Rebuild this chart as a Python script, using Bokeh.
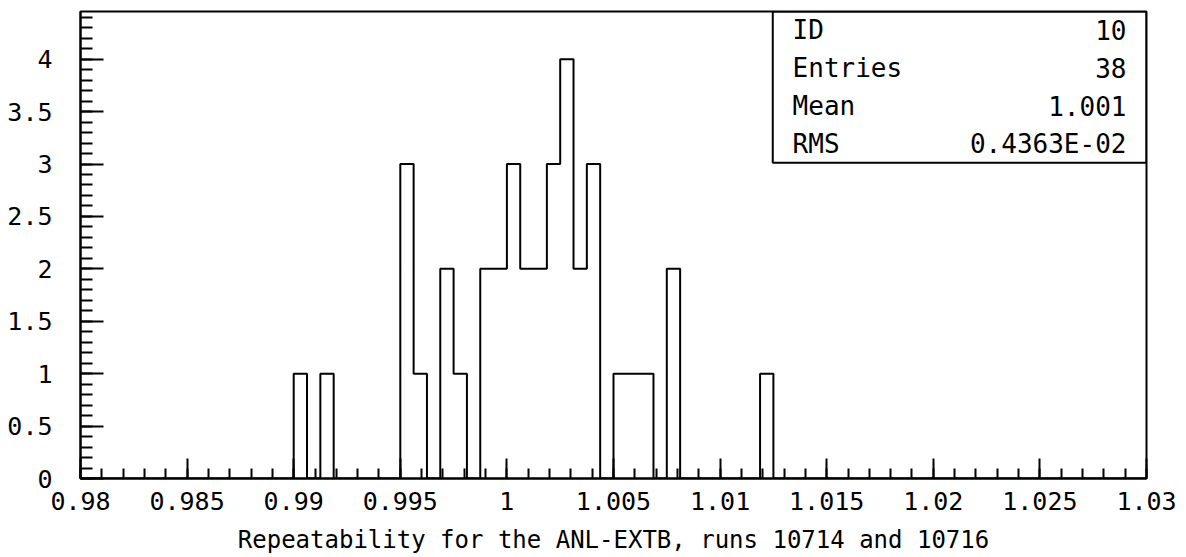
import numpy as np
from bokeh.plotting import figure
from bokeh.models import Range1d, FixedTicker, BoxAnnotation
from bokeh.core.properties import value
from bokeh.embed import file_html
from bokeh.resources import INLINE

# ---------------- data ----------------
x_lo, x_hi, n_bins = 0.98, 1.03, 80
counts = [
    0, 0, 0, 0, 0, 0, 0, 0, 0, 0,
    0, 0, 0, 0, 0, 0, 1, 0, 1, 0,
    0, 0, 0, 0, 3, 1, 0, 2, 1, 0,
    2, 2, 3, 2, 2, 3, 4, 2, 3, 0,
    1, 1, 1, 0, 2, 0, 0, 0, 0, 0,
    0, 1, 0, 0, 0, 0, 0, 0, 0, 0,
    0, 0, 0, 0, 0, 0, 0, 0, 0, 0,
    0, 0, 0, 0, 0, 0, 0, 0, 0, 0,
]
y_top = 4.455

x_ticks = [0.98, 0.985, 0.99, 0.995, 1.0, 1.005, 1.01, 1.015, 1.02, 1.025, 1.03]
x_tick_labels = ["0.98", "0.985", "0.99", "0.995", "1", "1.005", "1.01",
                 "1.015", "1.02", "1.025", "1.03"]
y_ticks = [0, 0.5, 1, 1.5, 2, 2.5, 3, 3.5, 4]
y_tick_labels = ["0", "0.5", "1", "1.5", "2", "2.5", "3", "3.5", "4"]

x_title = "Repeatability for the ANL-EXTB, runs 10714 and 10716"

stat_names = ["ID", "Entries", "Mean", "RMS"]
stat_values = ["10", "38", "1.001", "0.4363E-02"]

# ---------------- style ----------------
FONT = "DejaVu Sans Mono"
box_left_f = 0.6494     # stats box left edge, fraction of frame width
box_bottom_f = 0.676    # stats box bottom edge, fraction of frame height
name_x_f = 0.668
val_x_f = 0.9812

p = figure(width=1186, height=557, output_backend="svg", toolbar_location=None,
           x_range=Range1d(x_lo, x_hi), y_range=Range1d(0, y_top),
           min_border_left=80, min_border_right=40, min_border_top=11,
           min_border_bottom=79)
p.background_fill_color = "white"
p.border_fill_color = "white"
p.outline_line_color = "black"
p.outline_line_width = 2
p.xgrid.visible = False
p.ygrid.visible = False

edges = np.linspace(x_lo, x_hi, n_bins + 1)
p.step(x=edges, y=list(counts) + [0], mode="after", line_color="black", line_width=2)

# axes
x_minor = np.round(np.arange(x_lo, x_hi + 1e-9, 0.001), 4).tolist()
y_minor = np.round(np.arange(0, 4.4 + 1e-9, 0.1), 2).tolist()
p.xaxis.ticker = FixedTicker(ticks=x_ticks, minor_ticks=x_minor)
p.xaxis.major_label_overrides = dict(zip(x_ticks, x_tick_labels))
p.yaxis.ticker = FixedTicker(ticks=y_ticks, minor_ticks=y_minor)
p.yaxis.major_label_overrides = {float(k): v for k, v in zip(y_ticks, y_tick_labels)}

for ax in (p.xaxis[0], p.yaxis[0]):
    ax.axis_line_width = 2
    ax.axis_line_color = "black"
    ax.major_tick_line_width = 2
    ax.minor_tick_line_width = 2
    ax.major_tick_line_color = "black"
    ax.minor_tick_line_color = "black"
    ax.major_tick_out = 0
    ax.minor_tick_out = 0
    ax.major_label_text_font = FONT
    ax.major_label_text_font_size = "25px"
    ax.major_label_text_color = "black"

p.xaxis.major_tick_in = 20
p.xaxis.minor_tick_in = 10
p.yaxis.major_tick_in = 23
p.yaxis.minor_tick_in = 12
p.yaxis.major_label_standoff = 28
p.xaxis.major_label_standoff = 13

p.xaxis.axis_label = x_title
p.xaxis.axis_label_text_font = FONT
p.xaxis.axis_label_text_font_size = "24px"
p.xaxis.axis_label_text_font_style = "normal"
p.xaxis.axis_label_text_color = "black"
p.xaxis.axis_label_standoff = 13

# stats box
xs = lambda f: x_lo + f * (x_hi - x_lo)
ys = lambda f: f * y_top
box_bottom = ys(box_bottom_f)
p.add_layout(BoxAnnotation(left=xs(box_left_f), right=x_hi, bottom=box_bottom, top=y_top,
                           fill_alpha=0, line_color="black", line_alpha=1, line_width=2))
row_h = (y_top - box_bottom) / len(stat_names)
row_y = [y_top - (k + 0.5) * row_h for k in range(len(stat_names))]
p.text(x=[xs(name_x_f)] * len(stat_names), y=row_y, text=stat_names,
       text_font=value(FONT), text_font_size=value("26px"), text_color="black",
       text_align="left", text_baseline="middle")
p.text(x=[xs(val_x_f)] * len(stat_values), y=row_y, text=stat_values,
       text_font=value(FONT), text_font_size=value("26px"), text_color="black",
       text_align="right", text_baseline="middle")

open("out.html", "w").write(file_html(p, INLINE))
